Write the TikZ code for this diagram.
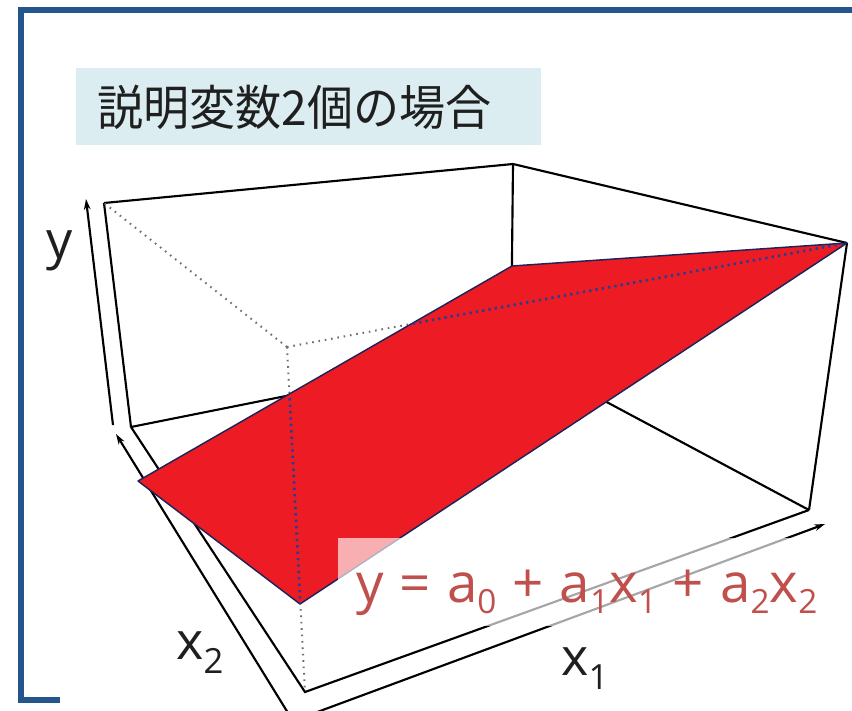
\documentclass[tikz,border=0pt]{standalone}
\usepackage{fontspec}
\newfontfamily\jpfont{Noto Sans CJK JP}
\newfontfamily\labfont{Open Sans}
\usetikzlibrary{arrows.meta}
\definecolor{frameblue}{RGB}{36,86,140}
\definecolor{titlebg}{RGB}{219,237,240}
\definecolor{planered}{RGB}{237,28,36}
\definecolor{planeedge}{RGB}{28,36,90}
\definecolor{hidblue}{RGB}{45,60,140}
\definecolor{hidgray}{RGB}{110,110,110}
\definecolor{eqred}{RGB}{192,80,77}
\newcommand\labsub[1]{\raisebox{-10.5pt}{\fontsize{26}{26}\selectfont #1}}
\newcommand\eqsub[1]{\raisebox{-8.25pt}{\fontsize{25}{25}\selectfont #1}}
\newcommand\eqgap{\hspace{12pt}}
\begin{document}
\begin{tikzpicture}[x=0.75pt,y=-0.75pt,
  boxline/.style={line width=1.6pt, black},
  axisline/.style={line width=1.6pt, black, -{Stealth[length=8pt,width=5pt]}},
  hidden/.style={line width=1.5pt, hidgray, dash pattern=on 1.2pt off 3.6pt},
  hiddenblue/.style={line width=2pt, hidblue, dash pattern=on 1.8pt off 3pt},
  plane/.style={fill=planered, draw=planeedge, line width=1.1pt, line join=round},
  lbl/.style={font=\labfont\fontsize{39}{39}\selectfont, text=black!88, anchor=base west, inner sep=0pt},
  eqn/.style={font=\labfont\fontsize{41}{41}\selectfont, text=eqred, anchor=base west, inner sep=0pt},
  frameline/.style={line width=4.1pt, frameblue, line join=miter},
  titlebox/.style={fill=titlebg, draw=none},
  veil/.style={fill=white, fill opacity=0.65, draw=none}]
\useasboundingbox (0,0) rectangle (852,710);
\clip (0,0) rectangle (852,710);
% title
\fill[titlebox] (76,68) rectangle (541,145);
\node[font=\jpfont\fontsize{36}{36}\selectfont, anchor=west, inner sep=0pt, xscale=0.96, text=black!88] (title) at (97,107) {説明変数2個の場合};
% box corners
\coordinate (A) at (104,203);
\coordinate (B) at (513,164);
\coordinate (C) at (847,243);
\coordinate (H) at (287,347);
\coordinate (G) at (131,427);
\coordinate (K) at (511,351);
\coordinate (E) at (809,510);
\coordinate (F) at (305,692);
% plane corners
\coordinate (P1) at (138,481);
\coordinate (P2) at (512,266);
\coordinate (P3) at (847,243);
\coordinate (P4) at (300,604);
% axes
\coordinate (O) at (293,721);
\coordinate (Ytail) at (113,425);
\coordinate (Ytip) at (86,199);
\coordinate (X2tip) at (116,434);
\coordinate (X1tip) at (825,524);
% solid box edges
\draw[boxline] (A) -- (B) -- (C);
\draw[boxline] (A) -- (G);
\draw[boxline] (B) -- (K);
\draw[boxline] (C) -- (E);
\draw[boxline] (G) -- (K) -- (E);
\draw[boxline] (G) -- (F) -- (E);
% hidden edges
\draw[hidden] (H) -- (A);
\draw[hidden] (H) -- (C);
\draw[hidden] (H) -- (F);
% axes
\draw[axisline] (Ytail) -- (Ytip);
\draw[axisline] (O) -- (X2tip);
\draw[axisline] (O) -- (X1tip);
% plane
\draw[plane] (P1) -- (P2) -- (P3) -- (P4) -- cycle;
\begin{scope}
  \clip (P1) -- (P2) -- (P3) -- (P4) -- cycle;
  \draw[hiddenblue] (H) -- (C);
  \draw[hiddenblue] (H) -- (F);
\end{scope}
% veil behind equation
\fill[veil] (338,538) rectangle (825,626);
\node[eqn] (eq) at (356,602) {y\eqgap=\eqgap a\eqsub{0}\eqgap+\eqgap a\eqsub{1}x\eqsub{1}\eqgap+\eqgap a\eqsub{2}x\eqsub{2}};
% labels
\node[lbl] (ylab) at (46,258) {y};
\node[lbl] (x2lab) at (176,659) {x\labsub{2}};
\node[lbl] (x1lab) at (561,675) {x\labsub{1}};
% frame
\draw[frameline] (852,10) -- (21,10) -- (21,700) -- (60,700);
\end{tikzpicture}
\end{document}
